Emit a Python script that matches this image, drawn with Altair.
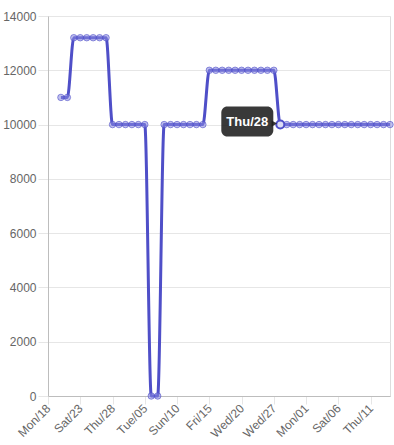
import altair as alt
import pandas as pd

labels = [
    "Mon/18", "Tue/19", "Wed/20", "Thu/21", "Fri/22", "Sat/23", "Sun/24", "Mon/25", "Tue/26", "Wed/27",
    "Thu/28", "Fri/01", "Sat/02", "Sun/03", "Mon/04", "Tue/05", "Wed/06", "Thu/07", "Fri/08", "Sat/09",
    "Sun/10", "Mon/11", "Tue/12", "Wed/13", "Thu/14", "Fri/15", "Sat/16", "Sun/17", "Mon/18 ", "Tue/19 ",
    "Wed/20", "Thu/21 ", "Fri/22 ", "Mon/25 ", "Tue/26 ", "Wed/27",
    "Thu/28", "Fri/29", "Sat/30", "Sun/31", "Mon/01", "Tue/02", "Wed/03", "Thu/04", "Fri/05", "Sat/06",
    "Sun/07", "Mon/08", "Tue/09", "Wed/10", "Thu/11", "Fri/12", "Sat/13", "Sun/14",
]
# make every category unique while keeping visible text
uniq = []
seen = {}
for l in labels:
    k = l.strip()
    seen[k] = seen.get(k, 0) + 1
    uniq.append(k + ("\u200b" * (seen[k] - 1)))
labels = uniq

values = (
    [None, None, 11000, 11000]
    + [13200] * 6
    + [10000] * 6
    + [0, 0]
    + [10000] * 7
    + [12000] * 11
    + [10000] * 18
)

shown_ticks = [labels[i] for i in range(0, len(labels), 5)]
hover_label = labels[36]
hover_value = values[36]

df = pd.DataFrame({"label": labels, "value": values})
hov = pd.DataFrame({"label": [hover_label], "value": [hover_value], "text": ["Thu/28"]})

FONT = "Liberation Sans"
LINE = "#4f4fc8"

x = alt.X(
    "label:N",
    sort=labels,
    scale=alt.Scale(domain=labels, type="point", padding=0),
    axis=alt.Axis(
        values=shown_ticks, title=None, labelAngle=-45, labelAlign="right",
        labelBaseline="middle", labelFont=FONT, labelFontSize=12, labelColor="#666666",
        gridColor="#e6e6e6", tickColor="#e6e6e6", tickSize=8, labelPadding=2,
        domainColor="#bdbdbd",
    ),
)
y = alt.Y(
    "value:Q",
    scale=alt.Scale(domain=[0, 14000], nice=False),
    axis=alt.Axis(
        values=list(range(0, 14001, 2000)), format="d", title=None, labelFont=FONT, labelFontSize=12,
        labelColor="#666666", gridColor="#e6e6e6", tickColor="#e6e6e6", tickSize=10,
        labelPadding=2, domainColor="#bdbdbd",
    ),
)

base = alt.Chart(df)
line = base.mark_line(interpolate="monotone", color=LINE, strokeWidth=3).encode(x=x, y=y)
pts = base.mark_point(
    filled=True, size=42, fill="#8a8ae0", fillOpacity=0.55, stroke=LINE, strokeWidth=1, strokeOpacity=0.6
).encode(x=x, y=y)

hb = alt.Chart(hov)
hpt = hb.mark_point(filled=True, size=64, fill="#dcdcf5", stroke=LINE, strokeWidth=2, opacity=1).encode(x=x, y=y)
box = hb.mark_rect(width=52, height=30, xOffset=-33, yOffset=-3, cornerRadius=6, color="#1e1e1e", opacity=0.88).encode(x=x, y=y)
arrow = hb.mark_point(shape="triangle-right", filled=True, size=40, xOffset=-6, yOffset=-1, color="#1e1e1e", opacity=0.88).encode(x=x, y=y)
txt = hb.mark_text(font=FONT, fontSize=13, fontWeight="bold", color="white", xOffset=-33, yOffset=-3).encode(x=x, y=y, text="text:N")

chart = (
    alt.layer(line, pts, hpt, box, arrow, txt)
    .properties(width=342, height=380, autosize=alt.AutoSizeParams(type="none"),
                padding={"left": 48, "top": 16, "right": 4, "bottom": 49})
    .configure_view(stroke=None)
    .configure(background="white")
)

chart.save("out.html", embed_options={"renderer": "svg", "actions": False})
